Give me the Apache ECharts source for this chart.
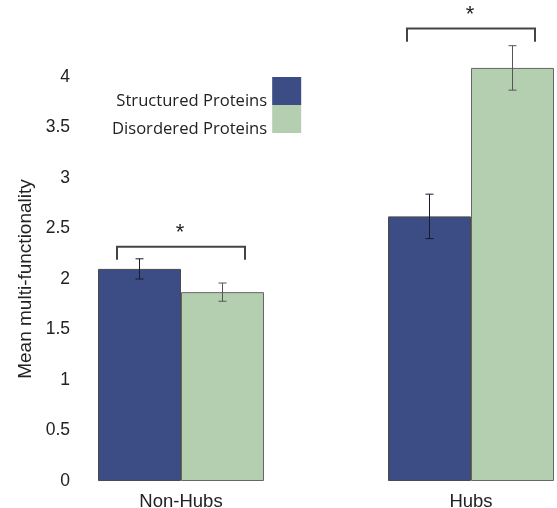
<!DOCTYPE html>
<html>
<head>
<meta charset="utf-8">
<script src="https://cdn.jsdelivr.net/npm/echarts@6/dist/echarts.min.js"></script>
<style>html,body{margin:0;padding:0;background:#fff;}#c{width:557px;height:508px;}</style>
</head>
<body>
<div id="c"></div>
<script>
const categories = ['Non-Hubs', 'Hubs'];
const seriesNames = ['Structured Proteins', 'Disordered Proteins'];
const structured = [2.10, 2.62];
const disordered = [1.87, 4.09];
const structuredErr = [0.10, 0.22];
const disorderedErr = [0.09, 0.22];
// significance brackets: [categoryIndex, bracketTop, bracketEnd]
const brackets = [[0, 2.32, 2.19], [1, 4.48, 4.35]];
const yTicks = [0, 0.5, 1, 1.5, 2, 2.5, 3, 3.5, 4];

const BAR_W = 83;
const chart = echarts.init(document.getElementById('c'), null, {renderer: 'canvas'});

function errItem(offset, color) {
  return function (params, api) {
    const c = api.value(0);
    const lo = api.coord([c, api.value(1)]);
    const hi = api.coord([c, api.value(2)]);
    const x = lo[0] + offset;
    const cap = 4;
    const st = {stroke: color, lineWidth: 1};
    return {type: 'group', children: [
      {type: 'line', shape: {x1: x, y1: lo[1], x2: x, y2: hi[1]}, style: st},
      {type: 'line', shape: {x1: x - cap, y1: lo[1], x2: x + cap, y2: lo[1]}, style: st},
      {type: 'line', shape: {x1: x - cap, y1: hi[1], x2: x + cap, y2: hi[1]}, style: st}
    ]};
  };
}

const errS = structured.map((v, i) => [i, v - structuredErr[i], v + structuredErr[i]]);
const errD = disordered.map((v, i) => [i, v - disorderedErr[i], v + disorderedErr[i]]);

chart.setOption({
  animation: false,
  grid: {left: 181, top: 77, width: 290, height: 404, containLabel: false, outerBoundsMode: 'none'},
  legend: {
    orient: 'vertical', align: 'right', left: 112, top: 71, padding: 0,
    itemGap: -12, itemWidth: 29, itemHeight: 28, icon: 'rect',
    data: seriesNames,
    formatter: function (name) { return '\n' + name; },
    itemStyle: {borderWidth: 0},
    textStyle: {fontFamily: 'Open Sans', fontSize: 16.6, color: '#222', width: 151, lineHeight: 20}
  },
  xAxis: {
    type: 'category', data: categories, boundaryGap: false,
    axisLine: {show: false}, axisTick: {show: false},
    axisLabel: {fontFamily: 'Liberation Sans', fontSize: 18.5, color: '#222', margin: 11}
  },
  yAxis: {
    type: 'value', min: yTicks[0], max: yTicks[yTicks.length - 1], interval: 0.5,
    offset: 103,
    axisLine: {show: false}, axisTick: {show: false}, splitLine: {show: false},
    axisLabel: {fontFamily: 'Liberation Sans', fontSize: 17.5, color: '#222', margin: 8},
    name: 'Mean multi-functionality', nameLocation: 'middle', nameGap: 40,
    nameTextStyle: {fontFamily: 'Liberation Sans', fontSize: 19, color: '#222'}
  },
  series: [
    {name: seriesNames[0], type: 'bar', data: structured, barWidth: BAR_W, barGap: '0%', clip: false,
     itemStyle: {color: '#3C4C85', borderColor: '#4a4a4a', borderWidth: 1}},
    {name: seriesNames[1], type: 'bar', data: disordered, barWidth: BAR_W, barGap: '0%', clip: false,
     itemStyle: {color: '#B3CFB0', borderColor: '#666', borderWidth: 1}},
    {type: 'custom', data: errS, renderItem: errItem(-BAR_W / 2, '#1a1a2a'), clip: false, z: 5},
    {type: 'custom', data: errD, renderItem: errItem(BAR_W / 2, '#555'), clip: false, z: 5},
    {type: 'custom', data: brackets, clip: false, z: 5,
     renderItem: function (params, api) {
       const c = api.value(0);
       const top = api.coord([c, api.value(1)]);
       const end = api.coord([c, api.value(2)]);
       const hw = 64;
       const st = {stroke: '#444', lineWidth: 2, fill: null};
       return {type: 'group', children: [
         {type: 'polyline', shape: {points: [[top[0] - hw, end[1]], [top[0] - hw, top[1]], [top[0] + hw, top[1]], [top[0] + hw, end[1]]]}, style: st},
         {type: 'text', style: {text: '*', x: top[0] - 1, y: top[1] - 3, fontSize: 22, fontFamily: 'Liberation Sans', fill: '#222', align: 'center', verticalAlign: 'bottom'}}
       ]};
     }}
  ]
});
</script>
</body>
</html>
